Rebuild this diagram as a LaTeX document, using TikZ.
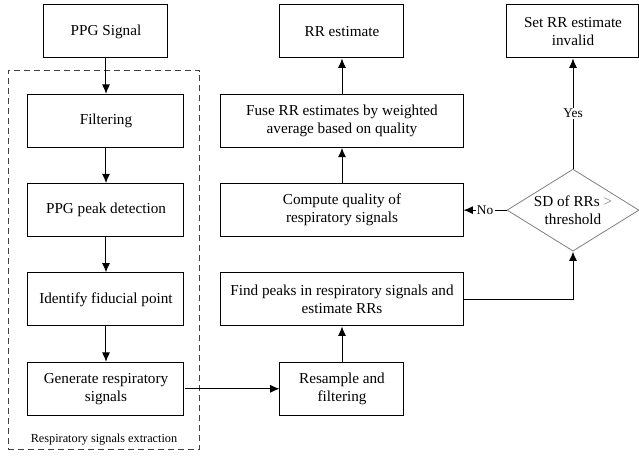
\documentclass[tikz,border=0pt]{standalone}
\usepackage{fontspec}
\setmainfont{Liberation Serif}
\usetikzlibrary{fit}
\usetikzlibrary{backgrounds}
\usetikzlibrary{positioning}
\usetikzlibrary{shapes.geometric}
\usetikzlibrary{arrows.meta}

\begin{document}
\begin{tikzpicture}[font=\rmfamily\fontsize{11.4}{13.5}\selectfont]

\tikzstyle{box}=[draw=black, line width=0.75pt, align=center, minimum width=117pt, minimum height=39.75pt]
\tikzstyle{smallbox}=[box, minimum width=93pt]
\tikzstyle{widebox}=[box, minimum width=181.5pt]
\tikzstyle{decision}=[draw=gray, line width=0.6pt, diamond, aspect=1.6, inner sep=0pt, align=center, minimum width=99pt, minimum height=61.5pt]
\tikzstyle{flow}=[line width=0.75pt, -{Latex[length=7pt,width=6pt]}]
\tikzstyle{answer}=[fill=white, inner sep=1pt, font=\rmfamily\fontsize{10}{12}\selectfont]
\tikzstyle{group}=[draw=black!75, line width=0.75pt, dash pattern=on 4.5pt off 3pt, inner xsep=13pt, inner ysep=17.25pt]

\useasboundingbox (-79.5pt,23.6pt) rectangle (399.75pt,-317.65pt);

\matrix[column sep={177pt,between origins}, row sep={67pt,between origins}, matrix anchor=ppg.center] at (0,0) {
    \node [smallbox] (ppg) {PPG Signal}; &
    \node [smallbox] (rrest) {RR estimate}; &[-3.75pt]
    \node [box, minimum width=99pt] (invalid) {Set RR estimate\\invalid}; \\
    \node [box] (filtering) {Filtering}; &
    \node [widebox] (fuse) {Fuse RR estimates by weighted\\average based on quality}; & \\
    \node [box] (peakdet) {PPG peak detection}; &
    \node [widebox] (quality) {Compute quality of\\respiratory signals}; &
    \node [decision] (sdcheck) {SD of RRs {\color{gray}>}\\threshold}; \\
    \node [box] (fiducial) {Identify fiducial point}; &
    \node [widebox] (findpeaks) {Find peaks in respiratory signals and\\estimate RRs}; & \\
    \node [box] (generate) {Generate respiratory\\signals}; &
    \node [smallbox] (resample) {Resample and\\filtering}; & \\
};

\coordinate [below=8.25pt of generate.south] (extbottom);
\begin{scope}[on background layer]
	\node[group, fit=(filtering)(generate)(extbottom), xshift=-1.5pt] (extraction) {};
\end{scope}
\node[font=\rmfamily\fontsize{9.2}{11}\selectfont, inner sep=0pt, above=4pt of extraction.south] (extlabel) {Respiratory signals extraction};

\draw[flow] (ppg) -- (filtering);
\draw[flow] (filtering) -- (peakdet);
\draw[flow] (peakdet) -- (fiducial);
\draw[flow] (fiducial) -- (generate);
\draw[flow] (generate) -- (resample);
\draw[flow] (resample) -- (findpeaks);
\draw[flow] (findpeaks) -| (sdcheck);
\draw[flow] (sdcheck) -- node[answer] (no) {No} (quality);
\draw[flow] (sdcheck) -- node[answer] (yes) {Yes} (invalid);
\draw[flow] (quality) -- (fuse);
\draw[flow] (fuse) -- (rrest);
\end{tikzpicture}
\end{document}
